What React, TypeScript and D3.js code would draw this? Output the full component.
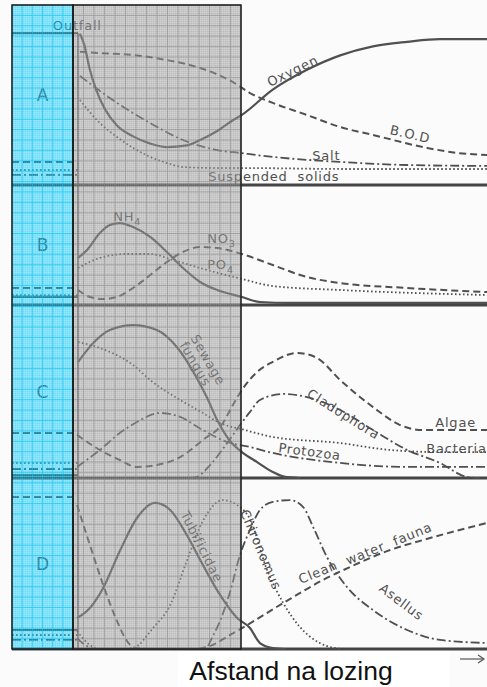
import React from 'react';
import * as d3 from 'd3';

type Pt = [number, number];

// ---------- Panel A ----------
const oxygenUp = 84.4;
const oxygen: Pt[] = [[14.3,84],[15.2,78],[16.4,64],[17.7,53],[19.6,42],[22.1,33],[25.5,27],[29.1,23],[32.6,21],[36.8,22],[39.6,25],[43.2,30],[46.5,36],[48.4,39],[54.9,53],[62.1,64],[69.1,72],[76,77],[83.2,79.5],[90.1,81],[100,81]];
const bodUp = 12.8;
const bod: Pt[] = [[14.3,74],[18.5,73.3],[25.5,72.2],[32.6,69.4],[39.6,65],[46.5,57.2],[50.1,51.1],[54.9,45.6],[62.1,38.9],[69.1,32.2],[76,27.8],[87.4,20.6],[93.7,17.8],[100,16.7]];
const saltUp = 5.6;
const salt: Pt[] = [[14.3,60.6],[22.1,45.6],[29.1,34.4],[36,25],[43.2,19.4],[48,17.8],[54.9,15.6],[69.1,12.8],[83.2,11.1],[100,10.6]];
const solidsUp = 8.3;
const solids: Pt[] = [[14.3,47.2],[18.5,34.4],[22.1,26.7],[25.5,20.6],[29.1,15.6],[32.6,12.2],[36,10],[43.2,9.4],[49.5,9.4],[70,8.9],[100,8.9]];

// ---------- Panel B ----------
const nh4Up = 6.7;
const nh4: Pt[] = [[13.9,39.2],[15.8,45.8],[18.5,60],[20.6,66.7],[22.7,68.3],[25.5,65],[29.1,56.7],[32.6,44.2],[36,30.8],[39.6,19.2],[43.2,12.5],[48.4,6.7],[52.2,2.5],[58.5,1.7],[100,1.7]];
const no3Up = 14.2;
const no3: Pt[] = [[13.9,12.5],[16.4,6.7],[19.2,5],[22.1,6.7],[25.5,14.2],[29.1,25],[32.6,35.8],[36,44.2],[39.6,48.3],[43.2,47.5],[48.4,42.5],[54.9,33.3],[62.1,23.3],[69.1,18.3],[83.2,14.2],[100,10.8]];
const po4Up = 8.3;
const po4: Pt[] = [[13.9,30.8],[18.5,39.2],[24.2,42.5],[29.1,42.5],[33.9,37.5],[39.6,30.8],[48.4,21.7],[54.9,15.8],[69.1,12.5],[100,8.3]];

// ---------- Panel C ----------
const fungusUp = 1.7;
const fungus: Pt[] = [[13.9,67],[17.1,78],[20.6,85.5],[25.5,88.4],[30.5,85.5],[34.7,75.7],[38.9,57.8],[41.1,46.2],[43.2,33.5],[45.9,21.4],[48.4,15],[51.6,9.2],[54.9,3.5],[57.5,0.6],[60.6,0]];
const bacteriaUp = 8.7;
const bacteria: Pt[] = [[13.9,78.6],[18.5,75.1],[25.5,65.3],[29.1,56.6],[35.4,45.1],[40.2,37.6],[43.8,31.8],[49.1,27.7],[54.9,23.7],[69.1,20.2],[79.6,16.2],[90.1,15],[100,15]];
const algaeUp = 26;
const algae: Pt[] = [[13.7,24.9],[18.5,16.2],[22.7,10.4],[26.3,6.4],[30.5,7.5],[35.4,12.1],[40.2,22],[44.4,31.8],[46.5,42.2],[48.4,50.9],[51.6,61.3],[54.9,67.1],[60,72.3],[64.2,69.4],[69.1,56.6],[76,41],[81.7,30.6],[86.5,27.7],[100,27.7]];
const protozoaUp = 5.2;
const protozoa: Pt[] = [[13.7,6.4],[18.5,16.2],[22.7,26],[26.3,32.4],[31.2,37.6],[35.4,35.3],[40.2,27.7],[45.3,20.8],[50.1,17.9],[54.9,14.5],[69.1,8.7],[83.2,6.4],[100,6.4]];
const cladophora: Pt[] = [[37.5,0],[38.9,0.6],[41.7,7.5],[45.3,20.2],[48,30.6],[50.1,38.2],[52.2,45.1],[57.1,48.6],[62.1,46.8],[69.1,39.3],[76,27.7],[83.2,16.2],[90.1,8.7],[95.8,0.6],[98.5,0]];

// ---------- Panel D ----------
const faunaUp = 88.9;
const fauna: Pt[] = [[13.7,84.2],[16.4,60.8],[19.2,37.4],[22.1,16.4],[24.2,4.7],[25.9,0.6],[29.1,0],[38.5,0],[41.7,1.8],[45.9,8.2],[49.5,14],[57.1,26.9],[65.5,40.4],[71.2,48],[79.6,57.9],[86.5,63.7],[100,73.7]];
const tubificidaeUp = 11.1;
const tubificidae: Pt[] = [[13.7,18.1],[16.4,24],[19.2,35.7],[22.7,57.3],[26.3,76.6],[30.1,85.4],[33.3,81.3],[36.8,66.7],[40.2,49.1],[43.8,31.6],[47.4,18.1],[50.1,12.3],[52.2,3.5],[54.9,0.6],[57.5,0]];
const chironomusUp = 8.2;
const chironomus: Pt[] = [[13.7,10.5],[16.4,2.3],[18.5,0],[22.7,0],[25.5,0.6],[29.7,12.3],[33.3,25.7],[36.8,51.5],[40.2,74.9],[44.4,87.1],[47.4,84.2],[50.1,76],[53.7,46.2],[57.1,26.9],[60.6,12.9],[64.8,3.5],[69.1,0]];
const asellusUp = 5.3;
const asellus: Pt[] = [[13.7,6.4],[15.4,2.3],[17.5,0],[40.6,0],[42.3,7.6],[43.8,16.4],[45.9,33.3],[48,55],[50.1,69.6],[52.2,81.3],[54.9,86],[58.5,87.1],[61.3,83],[63.4,71.3],[66.3,53.8],[70.5,36.3],[76,22.8],[83.2,11.1],[90.1,5.3],[100,3.5]];

// ---------- Labels ----------
const panelNames = ['A', 'B', 'C', 'D'];
const xAxisLabel = 'Afstand na lozing';
const outfallX = 13.9;

type Style = 'solid' | 'dashed' | 'dotted' | 'dashdot';
interface Series { name: string; style: Style; up: number | null; pts: Pt[] }
interface Label { text: string; sub?: string; x: number; y: number; rot: number }

const seriesByPanel: Series[][] = [
  [
    { name: 'Oxygen', style: 'solid', up: oxygenUp, pts: oxygen },
    { name: 'BOD', style: 'dashed', up: bodUp, pts: bod },
    { name: 'Salt', style: 'dashdot', up: saltUp, pts: salt },
    { name: 'Suspended solids', style: 'dotted', up: solidsUp, pts: solids },
  ],
  [
    { name: 'NH4', style: 'solid', up: nh4Up, pts: nh4 },
    { name: 'NO3', style: 'dashed', up: no3Up, pts: no3 },
    { name: 'PO4', style: 'dotted', up: po4Up, pts: po4 },
  ],
  [
    { name: 'Sewage fungus', style: 'solid', up: fungusUp, pts: fungus },
    { name: 'Bacteria', style: 'dotted', up: bacteriaUp, pts: bacteria },
    { name: 'Algae', style: 'dashed', up: algaeUp, pts: algae },
    { name: 'Protozoa', style: 'dashdot', up: protozoaUp, pts: protozoa },
    { name: 'Cladophora', style: 'dashdot', up: null, pts: cladophora },
  ],
  [
    { name: 'Clean water fauna', style: 'dashed', up: faunaUp, pts: fauna },
    { name: 'Tubificidae', style: 'solid', up: tubificidaeUp, pts: tubificidae },
    { name: 'Chironomus', style: 'dotted', up: chironomusUp, pts: chironomus },
    { name: 'Asellus', style: 'dashdot', up: asellusUp, pts: asellus },
  ],
];

const labelsByPanel: Label[][] = [
  [
    { text: 'Outfall', x: 8.6, y: 86.1, rot: 0 },
    { text: 'Oxygen', x: 54.3, y: 54.4, rot: -26 },
    { text: 'B.O.D', x: 79.4, y: 28.3, rot: 13 },
    { text: 'Salt', x: 63.2, y: 13.9, rot: 0 },
    { text: 'Suspended solids', x: 41.3, y: 2.2, rot: 0 },
  ],
  [
    { text: 'NH', sub: '4', x: 21.3, y: 70, rot: 0 },
    { text: 'NO', sub: '3', x: 41.1, y: 51.7, rot: 0 },
    { text: 'PO', sub: '4', x: 41.1, y: 30, rot: 0 },
  ],
  [
    { text: 'Sewage', x: 37.5, y: 80.9, rot: 60 },
    { text: 'fungus', x: 35.2, y: 76.9, rot: 60 },
    { text: 'Cladophora', x: 61.9, y: 47.4, rot: 32 },
    { text: 'Algae', x: 89.1, y: 29.5, rot: 0 },
    { text: 'Bacteria', x: 87.2, y: 14.5, rot: 0 },
    { text: 'Protozoa', x: 56, y: 15, rot: 7.5 },
  ],
  [
    { text: 'Tubificidae', x: 35.4, y: 78.9, rot: 63 },
    { text: 'Chironomus', x: 48, y: 80.1, rot: 67 },
    { text: 'Clean water fauna', x: 60.8, y: 38, rot: -22 },
    { text: 'Asellus', x: 77.1, y: 34.5, rot: 37 },
  ],
];

// ---------- Layout ----------
const W = 487, H = 687;
const LEFT = 12, CYAN_END = 73, GREY_END = 241, RIGHT = 487;
const panelTops = [5, 185, 305, 478];
const panelBottoms = [185, 305, 478, 649];
const TOP = 5, BOTTOM = 649;

const dashes: Record<Style, string | undefined> = {
  solid: undefined,
  dashed: '7 4',
  dotted: '1.6 2.4',
  dashdot: '9 3 2 3',
};
const widths: Record<Style, number> = { solid: 2.2, dashed: 2, dotted: 1.8, dashdot: 1.8 };
const INK = '#505050';
const FONT = '"DejaVu Sans", "Open Sans", sans-serif';

export default function App() {
  const x = d3.scaleLinear().domain([0, 100]).range([LEFT, RIGHT]);
  const yScales = panelTops.map((t, i) => d3.scaleLinear().domain([0, 100]).range([panelBottoms[i], t]));

  const cyanCols = d3.range(0, 7).map(i => LEFT + (i * (CYAN_END - LEFT)) / 6);
  const greyCols = d3.range(0, 17).map(i => CYAN_END + (i * (GREY_END - CYAN_END)) / 16);
  const rows = d3.range(0, 63).map(i => TOP + (i * (BOTTOM - TOP)) / 62);

  return (
    <svg width={W} height={H} style={{ position: 'absolute', left: 0, top: 0, background: '#fbfbfb' }}>
      <defs>
        <pattern id="dither" width="2" height="2" patternUnits="userSpaceOnUse">
          <rect x="0" y="0" width="1" height="1" fill="#fff" opacity="0.12" />
          <rect x="1" y="1" width="1" height="1" fill="#000" opacity="0.06" />
        </pattern>
      </defs>
      <rect x={0} y={0} width={W} height={H} fill="#fbfbfb" />

      {/* outfall vertical line */}
      <line x1={x(outfallX)} x2={x(outfallX)} y1={yScales[0](oxygenUp)} y2={BOTTOM} stroke="#666" strokeWidth={1.6} />

      {/* panel base lines */}
      {panelBottoms.map((b, i) => (
        <line key={'pb' + i} x1={LEFT} x2={RIGHT} y1={b} y2={b} stroke="#454545" strokeWidth={3} />
      ))}

      {/* curves */}
      {seriesByPanel.map((list, pi) => {
        const y = yScales[pi];
        const line = d3.line<Pt>().x(d => x(d[0])).y(d => y(d[1])).curve(d3.curveMonotoneX);
        return (
          <g key={'p' + pi}>
            {list.map(s => (
              <g key={s.name}>
                {s.up !== null && (
                  <line x1={x(0)} x2={x(outfallX)} y1={y(s.up)} y2={y(s.up)} stroke={INK}
                    strokeWidth={widths[s.style]} strokeDasharray={dashes[s.style]} />
                )}
                <path d={line(s.pts) || ''} fill="none" stroke={INK} strokeWidth={widths[s.style]}
                  strokeDasharray={dashes[s.style]} strokeLinecap="butt" />
              </g>
            ))}
          </g>
        );
      })}

      {/* curve labels */}
      {labelsByPanel.map((list, pi) => {
        const y = yScales[pi];
        return list.map(l => (
          <text key={l.text} transform={`translate(${x(l.x)},${y(l.y)}) rotate(${l.rot})`}
            fontFamily={FONT} fontSize={13} letterSpacing={0.8} wordSpacing={5} fill={INK}>
            {l.text}
            {l.sub && <tspan dy={4} fontSize={9.5}>{l.sub}</tspan>}
          </text>
        ));
      })}

      {/* panel letters */}
      {panelNames.map((n, i) => (
        <text key={n} x={(LEFT + CYAN_END) / 2} y={(panelTops[i] + panelBottoms[i]) / 2 + 6}
          textAnchor="middle" fontFamily={FONT} fontSize={17} fill={INK}>{n}</text>
      ))}

      {/* overlays */}
      <rect x={CYAN_END} y={TOP} width={GREY_END - CYAN_END} height={BOTTOM - TOP} fill="#989898" opacity={0.5} />
      <rect x={CYAN_END} y={TOP} width={GREY_END - CYAN_END} height={BOTTOM - TOP} fill="url(#dither)" />
      <rect x={LEFT} y={TOP} width={CYAN_END - LEFT} height={BOTTOM - TOP} fill="#00cbff" opacity={0.48} />
      <rect x={LEFT} y={TOP} width={CYAN_END - LEFT} height={BOTTOM - TOP} fill="url(#dither)" />

      {/* grids */}
      <g stroke="#7a7a7a" strokeWidth={0.9} opacity={0.5}>
        {greyCols.map((c, i) => <line key={'gc' + i} x1={c} x2={c} y1={TOP} y2={BOTTOM} />)}
        {rows.map((r, i) => <line key={'gr' + i} x1={CYAN_END} x2={GREY_END} y1={r} y2={r} />)}
      </g>
      <g stroke="#10c4f0" strokeWidth={0.9} opacity={0.7}>
        {cyanCols.map((c, i) => <line key={'cc' + i} x1={c} x2={c} y1={TOP} y2={BOTTOM} />)}
        {rows.map((r, i) => <line key={'cr' + i} x1={LEFT} x2={CYAN_END} y1={r} y2={r} />)}
      </g>

      {/* borders */}
      <rect x={LEFT} y={TOP} width={CYAN_END - LEFT} height={BOTTOM - TOP} fill="none" stroke="#1a1a1a" strokeWidth={1.5} />
      <rect x={CYAN_END} y={TOP} width={GREY_END - CYAN_END} height={BOTTOM - TOP} fill="none" stroke="#1a1a1a" strokeWidth={1.5} />

      {/* x axis label */}
      <rect x={178} y={651} width={272} height={36} fill="#fff" />
      <text x={291} y={680} textAnchor="middle" fontFamily='"Liberation Sans", Arial, sans-serif' fontSize={26.5} fill="#111">{xAxisLabel}</text>
      <g stroke="#555" strokeWidth={1.2} fill="none">
        <line x1={460} x2={483} y1={659} y2={659} />
        <path d="M478,655 L484,659 L478,663" />
      </g>
    </svg>
  );
}
